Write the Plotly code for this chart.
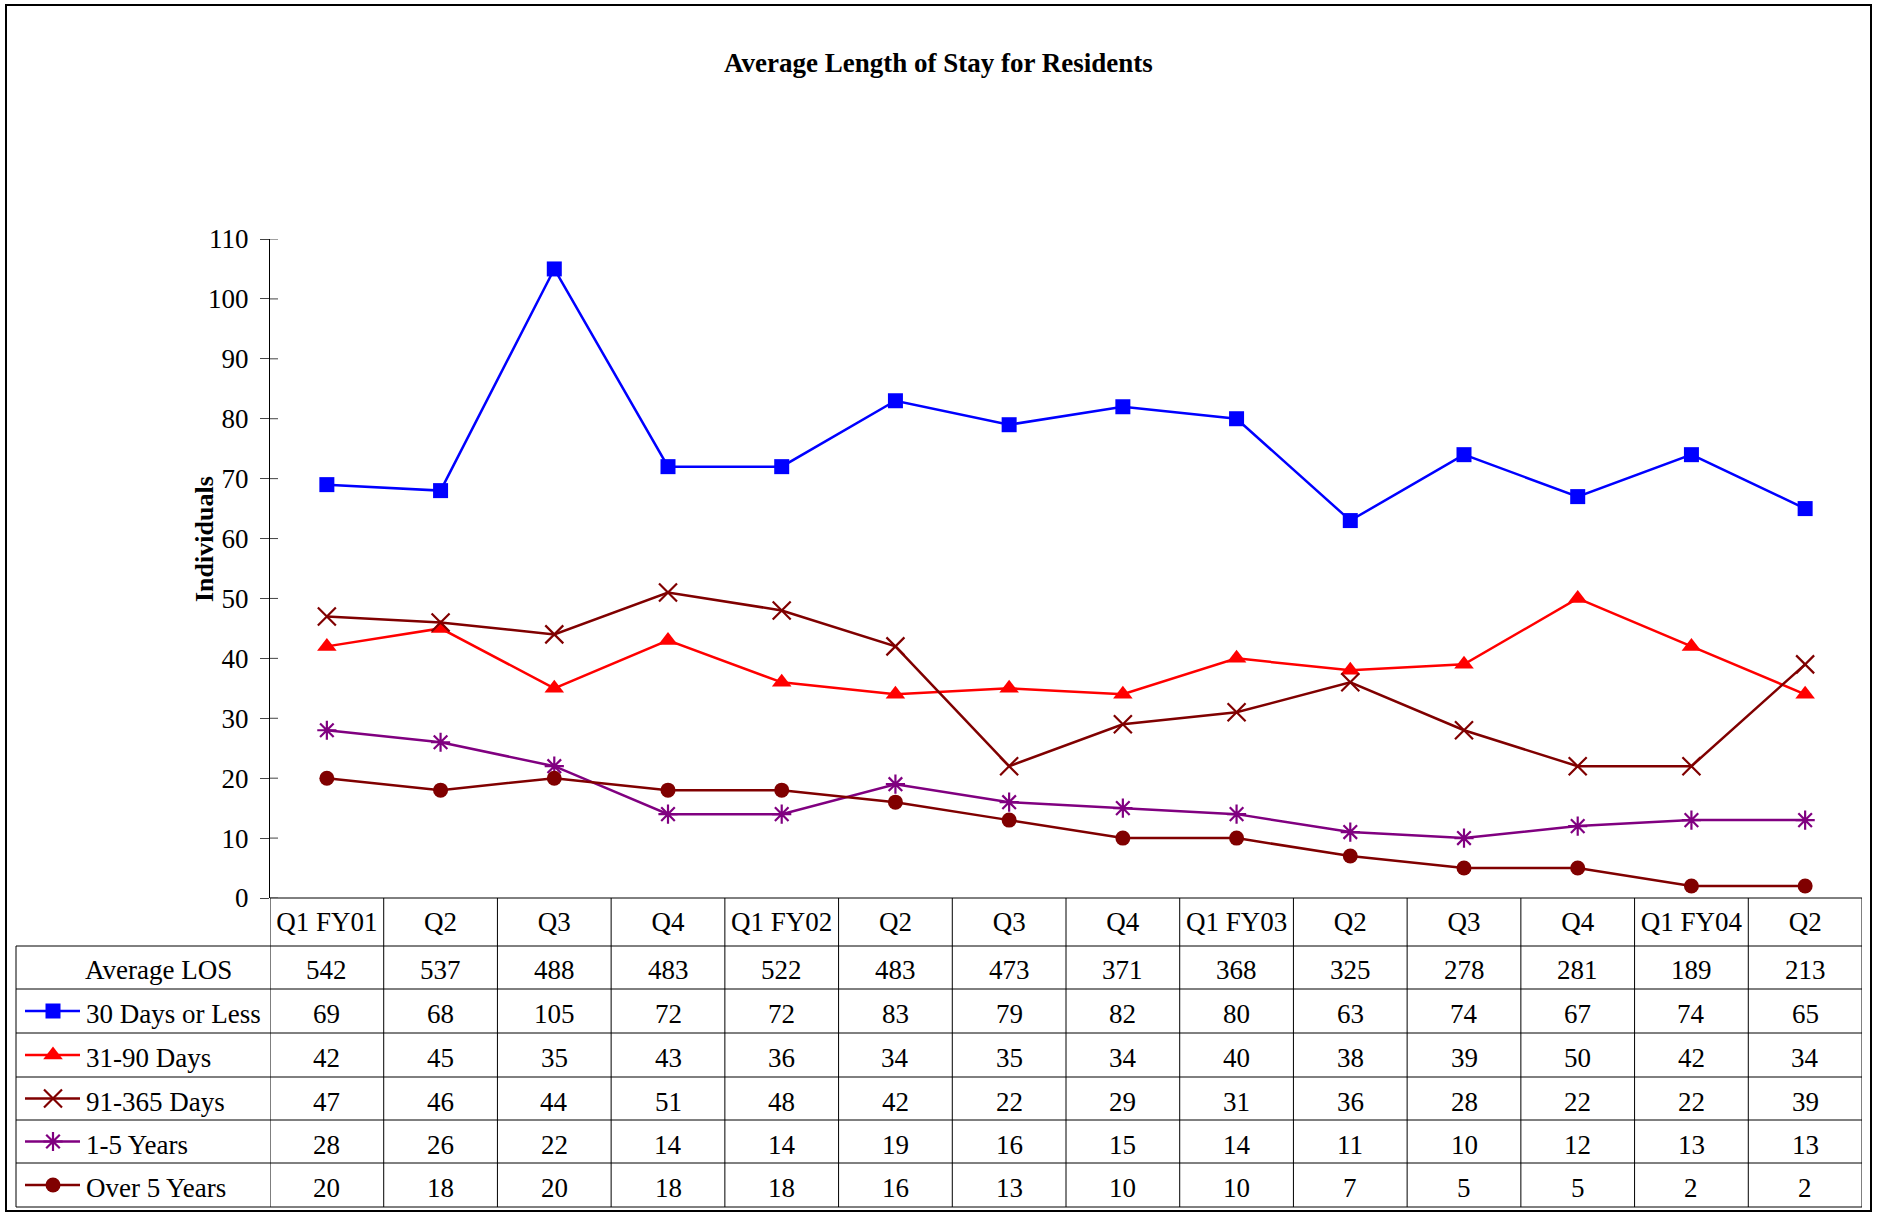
import plotly.graph_objects as go

# ---------------- data ----------------
quarters = ["Q1 FY01", "Q2", "Q3", "Q4", "Q1 FY02", "Q2", "Q3", "Q4",
            "Q1 FY03", "Q2", "Q3", "Q4", "Q1 FY04", "Q2"]
avg_los = [542, 537, 488, 483, 522, 483, 473, 371, 368, 325, 278, 281, 189, 213]
days_30_or_less = [69, 68, 105, 72, 72, 83, 79, 82, 80, 63, 74, 67, 74, 65]
days_31_90 = [42, 45, 35, 43, 36, 34, 35, 34, 40, 38, 39, 50, 42, 34]
days_91_365 = [47, 46, 44, 51, 48, 42, 22, 29, 31, 36, 28, 22, 22, 39]
years_1_5 = [28, 26, 22, 14, 14, 19, 16, 15, 14, 11, 10, 12, 13, 13]
over_5_years = [20, 18, 20, 18, 18, 16, 13, 10, 10, 7, 5, 5, 2, 2]
y_ticks = list(range(0, 111, 10))

series = [
    ("30 Days or Less", days_30_or_less, "#0000FF", "square", 15),
    ("31-90 Days", days_31_90, "#FF0000", "triangle-up", 17),
    ("91-365 Days", days_91_365, "#800000", "x-thin-open", 18),
    ("1-5 Years", years_1_5, "#800080", "asterisk-open", 16),
    ("Over 5 Years", over_5_years, "#800000", "circle", 15),
]

# ---------------- layout constants (pixels) ----------------
W, H = 1877, 1215
PLOT_L, PLOT_R, PLOT_T, PLOT_B = 270, 1862, 239, 898
TABLE_L = 16
ROW_EDGES = [898, 946, 989, 1033, 1077, 1120, 1163, 1207]
FONT = "Liberation Serif, Times New Roman, serif"
TXT = 27


def fx(px):
    return px / W


def fy(py):
    return 1 - py / H


x_idx = list(range(len(quarters)))

fig = go.Figure()

for name, vals, color, sym, size in series:
    open_sym = sym.endswith("open")
    fig.add_trace(go.Scatter(
        x=x_idx, y=vals, mode="lines+markers", name=name,
        line=dict(color=color, width=2.5),
        marker=dict(symbol=sym, size=size, color=color,
                    line=dict(color=color, width=2.2 if open_sym else 0)),
        cliponaxis=False, showlegend=False,
        xaxis="x", yaxis="y",
    ))

# legend keys inside the data table (separate pixel-scaled axes)
for r, (name, vals, color, sym, size) in enumerate(series):
    yc = (ROW_EDGES[r + 2] + ROW_EDGES[r + 3]) / 2
    open_sym = sym.endswith("open")
    fig.add_trace(go.Scatter(
        x=[25, 80], y=[yc, yc], mode="lines",
        line=dict(color=color, width=2.5), showlegend=False,
        xaxis="x2", yaxis="y2", cliponaxis=False, hoverinfo="skip"))
    fig.add_trace(go.Scatter(
        x=[53], y=[yc], mode="markers",
        marker=dict(symbol=sym, size=size, color=color,
                    line=dict(color=color, width=2.2 if open_sym else 0)),
        showlegend=False, xaxis="x2", yaxis="y2", cliponaxis=False,
        hoverinfo="skip"))

shapes = []
line_style = dict(color="black", width=1)
# horizontal table lines
for i, yy in enumerate(ROW_EDGES):
    x0 = PLOT_L if i == 0 else TABLE_L
    shapes.append(dict(type="line", xref="paper", yref="paper",
                       x0=fx(x0), x1=fx(PLOT_R), y0=fy(yy), y1=fy(yy),
                       line=line_style))
# vertical column lines
for k in range(len(quarters) + 1):
    shapes.append(dict(type="line", xref="x", yref="paper",
                       x0=k - 0.5, x1=k - 0.5,
                       y0=fy(ROW_EDGES[0]), y1=fy(ROW_EDGES[-1]),
                       line=line_style))
# left edge of label column
shapes.append(dict(type="line", xref="paper", yref="paper",
                   x0=fx(TABLE_L), x1=fx(TABLE_L),
                   y0=fy(ROW_EDGES[1]), y1=fy(ROW_EDGES[-1]), line=line_style))
# inner half of y ticks (ticks cross the axis)
for t in y_ticks:
    shapes.append(dict(type="line", xref="paper", yref="y",
                       x0=fx(PLOT_L), x1=fx(PLOT_L + 8), y0=t, y1=t,
                       line=dict(color="#444", width=1)))
# outer border
shapes.append(dict(type="rect", xref="paper", yref="paper",
                   x0=fx(6), x1=fx(1871), y0=fy(5), y1=fy(1211),
                   line=dict(color="black", width=2)))

annotations = []
# title
annotations.append(dict(text="<b>Average Length of Stay for Residents</b>",
                        xref="paper", yref="paper", x=fx(939), y=fy(63),
                        xanchor="center", yanchor="middle", showarrow=False,
                        font=dict(family=FONT, size=TXT, color="black")))
# y axis title
annotations.append(dict(text="<b>Individuals</b>", xref="paper", yref="paper",
                        x=fx(204), y=fy(539), textangle=-90,
                        xanchor="center", yanchor="middle", showarrow=False,
                        font=dict(family=FONT, size=26, color="black")))

table_rows = [("Average LOS", avg_los)] + [(s[0], s[1]) for s in series]
cell_font = dict(family=FONT, size=TXT, color="black")
for r, (label, vals) in enumerate(table_rows):
    yc = (ROW_EDGES[r + 1] + ROW_EDGES[r + 2]) / 2 + 3
    if r == 0:
        annotations.append(dict(text=label, xref="paper", yref="paper",
                                x=fx(158), y=fy(yc), xanchor="center",
                                yanchor="middle", showarrow=False, font=cell_font))
    else:
        annotations.append(dict(text=label, xref="paper", yref="paper",
                                x=fx(84), y=fy(yc), xanchor="left",
                                yanchor="middle", showarrow=False, font=cell_font))
    for i, v in enumerate(vals):
        annotations.append(dict(text=str(v), xref="x", yref="paper",
                                x=i, y=fy(yc), xanchor="center",
                                yanchor="middle", showarrow=False, font=cell_font))

fig.update_layout(
    template="none",
    width=W, height=H,
    margin=dict(l=0, r=0, t=0, b=0, pad=0, autoexpand=False),
    paper_bgcolor="white", plot_bgcolor="rgba(0,0,0,0)",
    font=dict(family=FONT, color="black"),
    xaxis=dict(domain=[fx(PLOT_L), fx(PLOT_R)], range=[-0.5, len(quarters) - 0.5],
               tickmode="array", tickvals=x_idx, ticktext=quarters,
               ticks="", showgrid=False, zeroline=False, showline=False,
               tickfont=dict(family=FONT, size=TXT, color="black"),
               ticklabelstandoff=5, anchor="y", automargin=False),
    yaxis=dict(domain=[fy(PLOT_B), fy(PLOT_T)], range=[0, 110],
               tickmode="array", tickvals=y_ticks, ticks="outside", ticklen=9,
               tickcolor="#444", showline=True, linecolor="black", linewidth=1,
               showgrid=False, zeroline=False,
               tickfont=dict(family=FONT, size=TXT, color="black"),
               ticklabelstandoff=6, anchor="x", automargin=False),
    xaxis2=dict(domain=[fx(TABLE_L), fx(PLOT_L)], range=[TABLE_L, PLOT_L],
                visible=False, anchor="y2", automargin=False),
    yaxis2=dict(domain=[fy(ROW_EDGES[-1]), fy(ROW_EDGES[1])],
                range=[ROW_EDGES[-1], ROW_EDGES[1]], visible=False, anchor="x2",
                automargin=False),
    shapes=shapes, annotations=annotations,
    showlegend=False,
)

# pin the figure to the window's top-left corner (no page margin / scrolling)
post_js = ("document.documentElement.style.margin='0';"
           "document.body.style.margin='0';"
           "document.body.style.overflow='hidden';"
           "var gd=document.getElementById('{plot_id}');"
           "gd.style.position='fixed';gd.style.left='0px';gd.style.top='0px';")

fig.write_html("out.html", post_script=post_js,
               config={"displayModeBar": False, "responsive": False})
